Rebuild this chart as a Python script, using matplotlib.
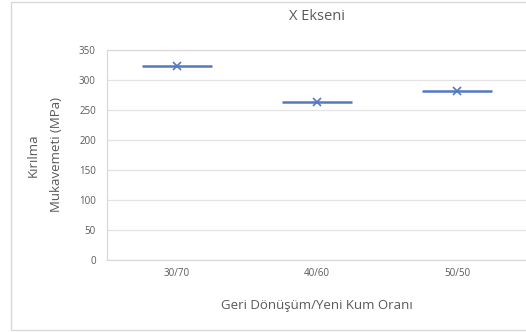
import matplotlib.pyplot as plt
from matplotlib.patches import Rectangle

categories = ["30/70", "40/60", "50/50"]
strength = [324, 264, 281]
half_width = [0.25, 0.25, 0.25]
y_ticks = [0, 50, 100, 150, 200, 250, 300, 350]

plt.rcParams["font.family"] = ["Open Sans", "DejaVu Sans"]
text_color = "#595959"
series_color = "#5479c0"

fig = plt.figure(figsize=(5.26, 3.32), dpi=100)
W, H = 526, 332

# outer chart border (cropped on the right in the reference)
fig.patches.append(Rectangle((11 / W, 1 - 330 / H), 1.2, 328 / H,
                             transform=fig.transFigure, fill=False,
                             edgecolor="#d9d9d9", linewidth=1.0))

ax = fig.add_axes([107 / W, 1 - 260 / H, 420 / W, 210 / H])
x = list(range(len(categories)))
ax.errorbar(x, strength, xerr=half_width, fmt="x", color=series_color,
            markersize=5.5, markeredgewidth=1.2, elinewidth=1.8, capsize=0)

ax.set_xlim(-0.5, 2.5)
ax.set_ylim(0, 350)
ax.set_yticks(y_ticks)
ax.set_xticks(x)
ax.set_xticklabels(categories)
ax.tick_params(length=0, labelsize=7, colors=text_color, pad=6)
ax.tick_params(axis="y", pad=8)
ax.grid(axis="y", color="#e3e3e3", linewidth=0.9)
ax.set_axisbelow(True)
for name, sp in ax.spines.items():
    sp.set_color("#d9d9d9")
    sp.set_linewidth(0.9)
ax.spines["right"].set_visible(False)

fig.text(317 / W, 1 - 17 / H, "X Ekseni", ha="center", va="center",
         fontsize=10.5, color=text_color)
fig.text(317 / W, 1 - 306 / H, "Geri Dönüşüm/Yeni Kum Oranı", ha="center",
         va="center", fontsize=9.5, color=text_color)
fig.text(33 / W, 1 - 155 / H, "Kırılma", ha="center", va="center",
         rotation=90, fontsize=9.5, color=text_color)
fig.text(56 / W, 1 - 155 / H, "Mukavemeti (MPa)", ha="center", va="center",
         rotation=90, fontsize=9.5, color=text_color)

fig.savefig("out.png", dpi=100)
